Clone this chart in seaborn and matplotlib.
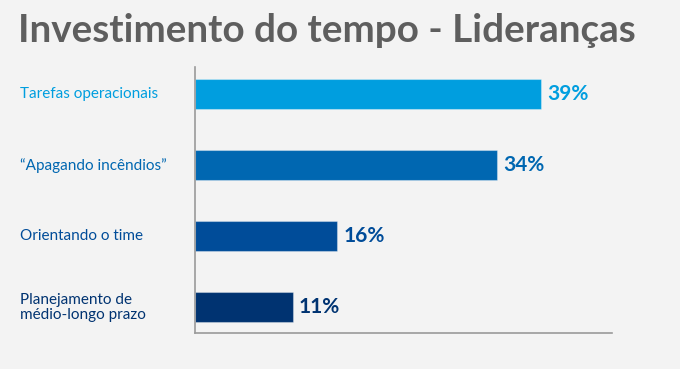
import matplotlib
matplotlib.use("Agg")
import matplotlib.pyplot as plt
import matplotlib.transforms as mtransforms
import pandas as pd
import seaborn as sns

categories = ["Tarefas operacionais", "\u201cApagando incêndios\u201d", "Orientando o time",
              "Planejamento de\nmédio-longo prazo"]
values = [39, 34, 16, 11]
colors = ["#009EDF", "#0067B1", "#004C99", "#003371"]

title = "Investimento do tempo - Lideranças"

df = pd.DataFrame({"Categoria": categories, "Valor": values})

sns.set_style("white")
plt.rcParams["font.family"] = ["Lato", "DejaVu Sans"]

bg = "#F3F3F3"
fig = plt.figure(figsize=(6.8, 3.69), dpi=100, facecolor=bg)
ax = fig.add_axes([0.2868, 0.0976, 0.6132, 0.7208], facecolor=bg)

sns.barplot(data=df, x="Valor", y="Categoria", hue="Categoria", palette=colors,
            order=categories, hue_order=categories, width=0.42, legend=False,
            saturation=1, linewidth=0.8, edgecolor="#ffffff55", ax=ax)

ax.set_xlim(0, 47)
ax.set_ylim(3.36, -0.38)
ax.set_xticks([])
ax.set_yticks([])
ax.set_xlabel("")
ax.set_ylabel("")
for s in ["top", "right"]:
    ax.spines[s].set_visible(False)
for s in ["left", "bottom"]:
    ax.spines[s].set_color("#9a9a9a")
    ax.spines[s].set_linewidth(1.2)

# category labels on the left, left-aligned
trans = mtransforms.blended_transform_factory(fig.transFigure, ax.transData)
for i, (cat, c) in enumerate(zip(categories, colors)):
    ax.text(20 / 680, i, cat, transform=trans, ha="left", va="center",
            color=c, fontsize=11, linespacing=1.1)

# value labels
for i, (v, c) in enumerate(zip(values, colors)):
    ax.annotate(f"{v}%", xy=(v, i), xytext=(4.5, 0), textcoords="offset points",
                ha="left", va="center", color=c, fontsize=15, fontweight="bold")

fig.text(18 / 680, 1 - 30 / 369, title, ha="left", va="center",
         color="#5e5e5e", fontsize=27.8, fontweight="bold")

fig.savefig("out.png", dpi=100, facecolor=bg)
